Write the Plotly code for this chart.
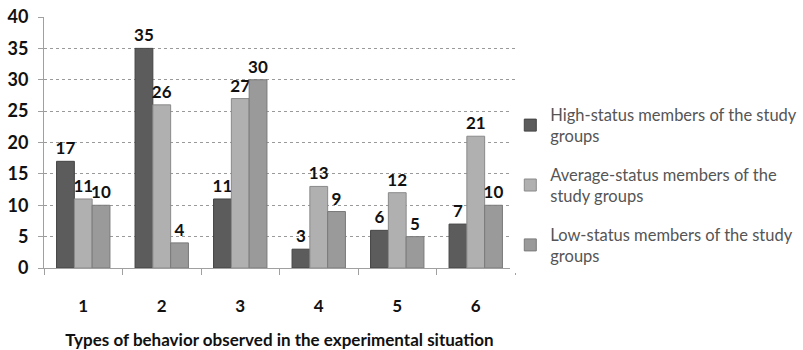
import plotly.graph_objects as go

# Behaviour types on the x axis and counts per status group
categories = ["1", "2", "3", "4", "5", "6"]
high_status = [17, 35, 11, 3, 6, 7]
average_status = [11, 26, 27, 13, 12, 21]
low_status = [10, 4, 30, 9, 5, 10]

series_names = [
    "High-status members of the study<br>groups",
    "Average-status members of the<br>study groups",
    "Low-status members of the study<br>groups",
]
series_values = [high_status, average_status, low_status]
fill_colors = ["#5c5c5c", "#b0b0b0", "#9a9a9a"]
line_colors = ["#444444", "#8a8a8a", "#7a7a7a"]

font_family = "Lato, Open Sans, sans-serif"

fig = go.Figure()
for i, (name, vals, fc, lc) in enumerate(zip(series_names, series_values, fill_colors, line_colors)):
    fig.add_trace(go.Bar(
        x=categories,
        y=vals,
        name=name,
        legendgroup=f"g{i}",
        text=[str(v) for v in vals],
        textposition="outside",
        constraintext="none",
        cliponaxis=False,
        textfont=dict(family=font_family, size=17, color="#111111", weight="bold"),
        marker=dict(color=fc, line=dict(color=lc, width=1)),
    ))

fig.update_layout(
    width=803,
    height=350,
    margin=dict(l=44, r=288, t=17, b=82, autoexpand=False),
    paper_bgcolor="white",
    plot_bgcolor="white",
    barmode="group",
    bargap=0.32,
    bargroupgap=0,
    font=dict(family=font_family),
    showlegend=True,
    legend=dict(
        x=0.99, y=0.33, xanchor="left", yanchor="middle",
        font=dict(family=font_family, size=16.5, color="#555555"),
        tracegroupgap=14,
        itemwidth=30,
    ),
)

fig.update_yaxes(
    range=[0, 40],
    dtick=5,
    automargin=False,
    showgrid=True,
    gridcolor="#9a9a9a",
    griddash="dot",
    gridwidth=1,
    showline=True,
    linecolor="#a0a0a0",
    ticks="outside",
    ticklen=5,
    tickcolor="#a0a0a0",
    ticklabelstandoff=6,
    tickfont=dict(family=font_family, size=18, color="#111111", weight="bold"),
    zeroline=False,
)

fig.update_xaxes(
    automargin=False,
    showline=True,
    linecolor="#a0a0a0",
    ticks="outside",
    tickson="boundaries",
    ticklen=6,
    tickcolor="#a0a0a0",
    ticklabelstandoff=23,
    tickfont=dict(family=font_family, size=17, color="#111111", weight="bold"),
    title=dict(
        text="Types of behavior observed in the experimental situation",
        font=dict(family=font_family, size=17, color="#111111", weight="bold"),
        standoff=24,
    ),
)

fig.write_html("out.html")
